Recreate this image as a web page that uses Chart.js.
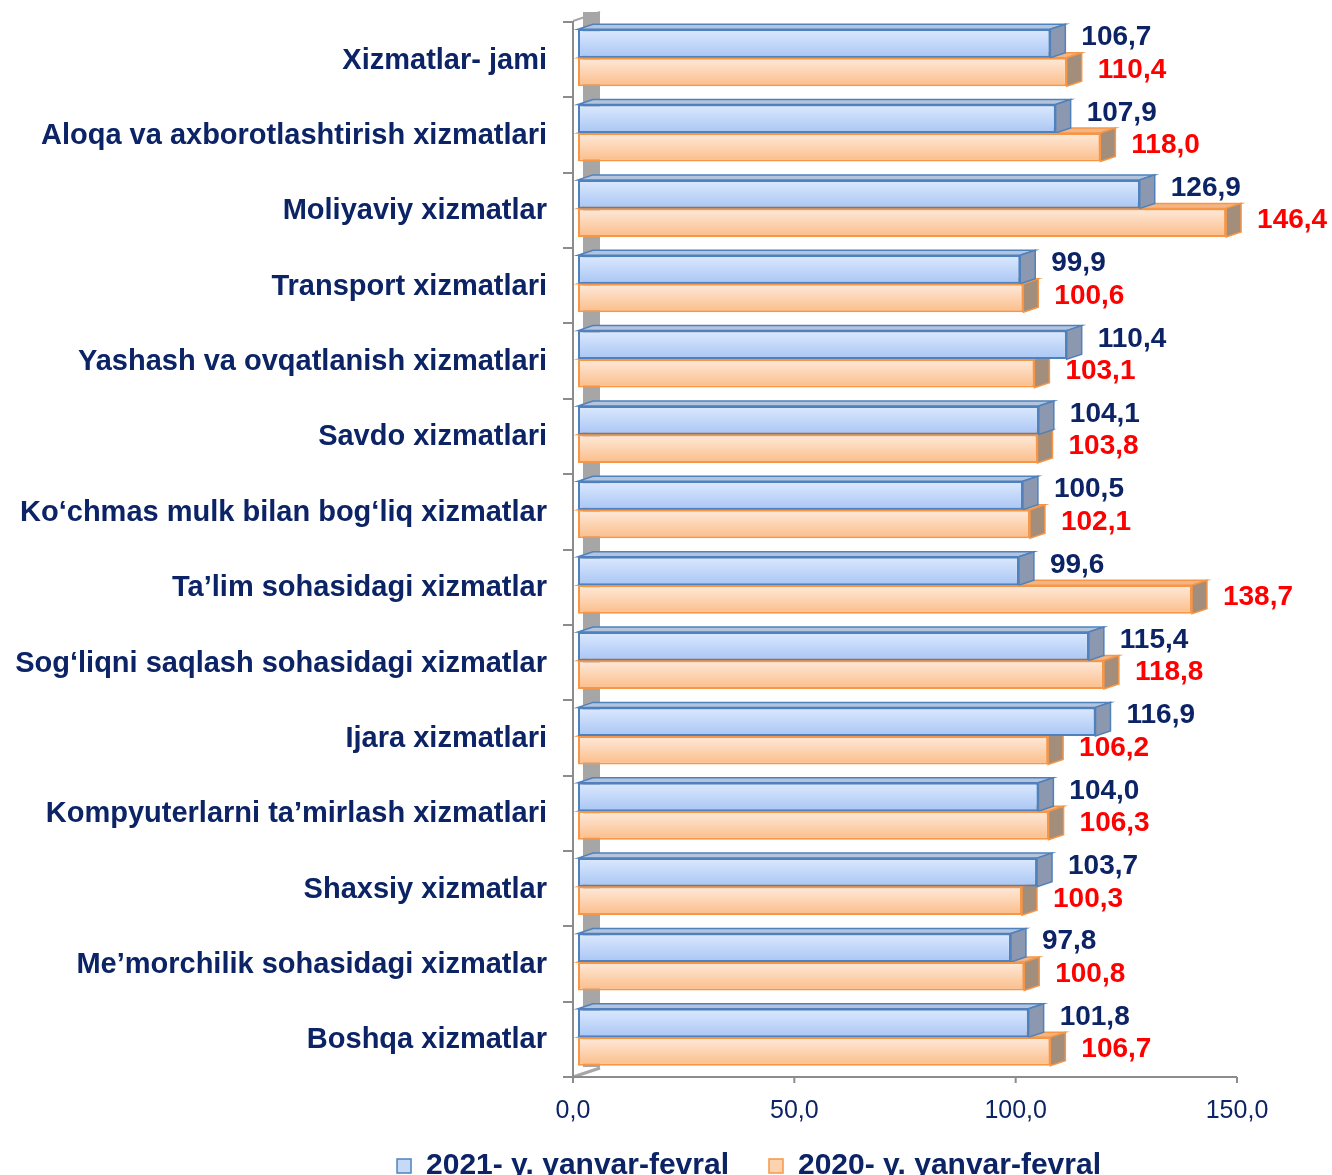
<!DOCTYPE html>
<html><head><meta charset="utf-8">
<script src="https://cdn.jsdelivr.net/npm/chart.js@4.4.1/dist/chart.umd.min.js"></script>
<style>html,body{margin:0;padding:0;background:#fff;overflow:hidden}#wrap{width:1332px;height:1221px;position:relative}</style>
</head><body><div id="wrap"><canvas id="c"></canvas></div>
<script>
const categories = [
  'Xizmatlar- jami',
  'Aloqa va axborotlashtirish xizmatlari',
  'Moliyaviy xizmatlar',
  'Transport xizmatlari',
  'Yashash va ovqatlanish xizmatlari',
  'Savdo xizmatlari',
  'Ko‘chmas mulk bilan bog‘liq xizmatlar',
  'Ta’lim sohasidagi xizmatlar',
  'Sog‘liqni saqlash sohasidagi xizmatlar',
  'Ijara xizmatlari',
  'Kompyuterlarni ta’mirlash xizmatlari',
  'Shaxsiy xizmatlar',
  'Me’morchilik sohasidagi xizmatlar',
  'Boshqa xizmatlar'
];
const series2021 = [106.7, 107.9, 126.9, 99.9, 110.4, 104.1, 100.5, 99.6, 115.4, 116.9, 104.0, 103.7, 97.8, 101.8];
const series2020 = [110.4, 118.0, 146.4, 100.6, 103.1, 103.8, 102.1, 138.7, 118.8, 106.2, 106.3, 100.3, 100.8, 106.7];
const seriesNames = ['2021- y. yanvar-fevral', '2020- y. yanvar-fevral'];
const xTickValues = [0, 50, 100, 150];

const NAVY = '#0c2466';
const CAT_PCT = 0.756;
const DX = 15, DY = 5;
const fmt = v => Number(v).toFixed(1).replace('.', ',');

const styles = [
  {top: '#dce9fe', bot: '#a9c6f4', stroke: '#4f81bd', topFace: '#b3c4dc', side: '#8b98b0', label: NAVY, dy: -6},
  {top: '#feeadb', bot: '#fbbd89', stroke: '#f79646', topFace: '#f3b584', side: '#a38d7b', label: '#ff0000', dy: -2}
];

function barFill(si) {
  return (ctx) => {
    const chart = ctx.chart, a = chart.chartArea;
    if (!a || ctx.dataIndex === undefined) return si ? '#fcd3b0' : '#c6d9f7';
    const c = chart.scales.y.getPixelForValue(ctx.dataIndex);
    const cat = (a.bottom - a.top) / categories.length;
    const t = cat * CAT_PCT / 2;
    const top = si ? c : c - t;
    const g = chart.ctx.createLinearGradient(0, top, 0, top + t);
    g.addColorStop(0, styles[si].top);
    g.addColorStop(1, styles[si].bot);
    return g;
  };
}

const deco = {
  id: 'deco',
  afterLayout(chart) {
    const lg = chart.legend;
    if (lg) { lg.left += 128; lg.right += 128; lg.top -= 30; lg.bottom -= 30; }
  },
  beforeDatasetsDraw(chart) {
    const c = chart.ctx, a = chart.chartArea, xs = chart.scales.x;
    const n = categories.length, cat = (a.bottom - a.top) / n;
    c.save();
    // back wall
    c.fillStyle = '#a6a6a6';
    c.fillRect(a.left + 5, a.top - 8, 17, a.bottom - a.top);
    c.strokeStyle = '#a6a6a6'; c.lineWidth = 2;
    c.beginPath(); c.moveTo(a.left - 5, a.top + 1); c.lineTo(a.left + 22, a.top - 8); c.stroke();
    c.lineWidth = 3;
    c.beginPath(); c.moveTo(a.left - 5, a.bottom + 2); c.lineTo(a.left + 22, a.bottom - 7); c.stroke();
    // axes
    c.strokeStyle = '#8c8c8c'; c.lineWidth = 2;
    const ax = a.left - 5, ay = a.bottom + 2;
    c.beginPath(); c.moveTo(ax, a.top + 1); c.lineTo(ax, ay + 6); c.stroke();
    for (let k = 0; k <= n; k++) {
      const y = Math.round(a.top + 2 + k * cat);
      c.beginPath(); c.moveTo(ax - 10, y); c.lineTo(ax, y); c.stroke();
    }
    c.beginPath(); c.moveTo(ax, ay); c.lineTo(xs.getPixelForValue(150) - 5, ay); c.stroke();
    xTickValues.forEach(v => {
      const x = xs.getPixelForValue(v) - 5;
      c.beginPath(); c.moveTo(x, ay); c.lineTo(x, ay + 6); c.stroke();
    });
    // depth faces
    [1, 0].forEach(di => {
      const st = styles[di];
      chart.getDatasetMeta(di).data.forEach(el => {
        const x0 = el.base, x1 = el.x, yT = el.y - el.height / 2, yB = el.y + el.height / 2;
        c.lineWidth = 1.5; c.strokeStyle = st.stroke;
        c.fillStyle = st.topFace;
        c.beginPath(); c.moveTo(x0, yT); c.lineTo(x0 + DX, yT - DY); c.lineTo(x1 + DX, yT - DY); c.lineTo(x1, yT); c.closePath(); c.fill(); c.stroke();
        c.fillStyle = st.side;
        c.beginPath(); c.moveTo(x1, yT); c.lineTo(x1 + DX, yT - DY); c.lineTo(x1 + DX, yB - DY); c.lineTo(x1, yB); c.closePath(); c.fill(); c.stroke();
      });
    });
    c.restore();
  },
  afterDatasetsDraw(chart) {
    const c = chart.ctx;
    c.save();
    c.font = 'bold 28px "Liberation Sans", Arial, sans-serif';
    c.textBaseline = 'middle'; c.textAlign = 'left';
    [0, 1].forEach(di => {
      const st = styles[di];
      const vals = chart.data.datasets[di].data;
      chart.getDatasetMeta(di).data.forEach((el, i) => {
        c.fillStyle = st.label;
        c.fillText(fmt(vals[i]), el.x + DX + 16, el.y + st.dy);
      });
    });
    c.restore();
  }
};

new Chart(document.getElementById('c'), {
  type: 'bar',
  data: {
    labels: categories,
    datasets: [
      {label: seriesNames[0], data: series2021, backgroundColor: barFill(0), borderColor: styles[0].stroke, borderWidth: 2, borderSkipped: false},
      {label: seriesNames[1], data: series2020, backgroundColor: barFill(1), borderColor: styles[1].stroke, borderWidth: 2, borderSkipped: false}
    ]
  },
  options: {
    indexAxis: 'y',
    responsive: true,
    maintainAspectRatio: false,
    animation: false,
    layout: {padding: {left: 0, right: 90, top: 20, bottom: 0}},
    datasets: {bar: {categoryPercentage: CAT_PCT, barPercentage: 1}},
    scales: {
      x: {
        min: 0, max: 150,
        afterBuildTicks: s => { s.ticks = xTickValues.map(v => ({value: v})); },
        afterFit: s => { s.height = 66; s.paddingLeft = 0; s.paddingRight = 0; },
        grid: {display: false}, border: {display: false},
        ticks: {callback: v => fmt(v), color: NAVY, padding: 13, labelOffset: -5, maxRotation: 0,
          font: {family: '"Liberation Sans", Arial, sans-serif', size: 25}}
      },
      y: {
        afterFit: s => { s.width = 578; s.paddingTop = 0; s.paddingBottom = 0; },
        grid: {display: false}, border: {display: false},
        ticks: {autoSkip: false, color: NAVY, padding: 23, labelOffset: 3,
          font: {family: '"Liberation Sans", Arial, sans-serif', size: 29, weight: 'bold'}}
      }
    },
    plugins: {
      tooltip: {enabled: false},
      legend: {
        position: 'bottom',
        labels: {
          color: NAVY, boxWidth: 14, boxHeight: 14, padding: 40,
          font: {family: '"Liberation Sans", Arial, sans-serif', size: 30, weight: 'bold'},
          generateLabels: chart => chart.data.datasets.map((d, i) => ({
            text: d.label, fillStyle: i ? '#fcd3b0' : '#c6d9f7', strokeStyle: styles[i].stroke,
            lineWidth: 1.5, datasetIndex: i, hidden: false, fontColor: NAVY
          }))
        }
      }
    }
  },
  plugins: [deco]
});
</script></body></html>
